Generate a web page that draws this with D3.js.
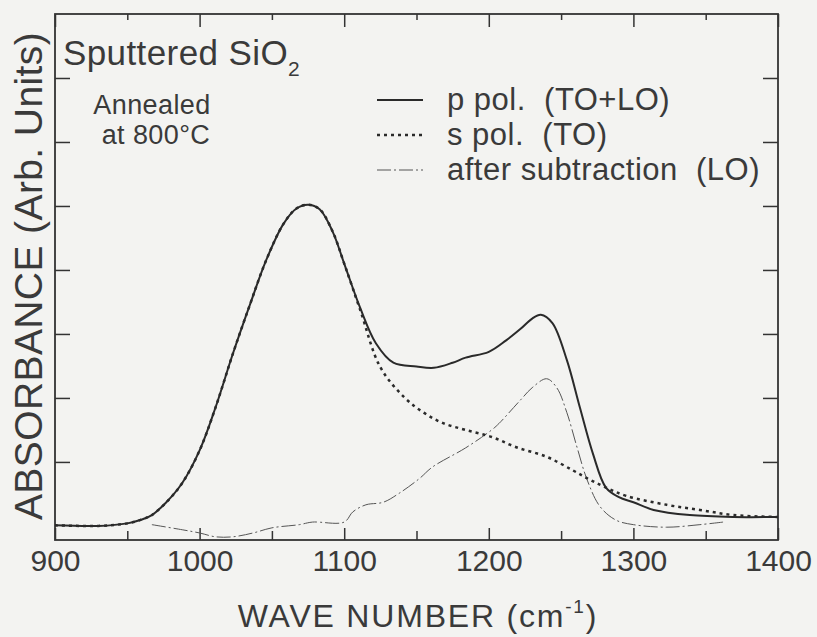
<!DOCTYPE html>
<html lang="en">
  <head>
    <meta charset="UTF-8" />
    <title>Sputtered SiO2 absorbance</title>
    <script src="https://d3js.org/d3.v7.min.js"></script>
    <style>
      body {
        margin: 0;
        padding: 0;
        background-color: #f3f3f1;
        font-family: "Liberation Sans", Arial, sans-serif;
      }
      .axis path {
        display: none;
      }
      .axis line {
        stroke: #333;
        stroke-width: 1.5px;
      }
      .axis text {
        font-family: "Liberation Sans", Arial, sans-serif;
        font-size: 30px;
        fill: #3a3a3a;
      }
    </style>
  </head>
  <body>
    <div id="chart"></div>
    <script>
      const width = 817;
      const height = 637;

      // p polarisation (TO+LO), solid
      const pPolWave = [900, 930, 950, 960, 967, 977, 988, 1000, 1011, 1023, 1035, 1046, 1058, 1067, 1075, 1083, 1092, 1100, 1111, 1122, 1134, 1150, 1162, 1175, 1184, 1200, 1212, 1222, 1230, 1236, 1244, 1254, 1263, 1272, 1281, 1290, 1300, 1314, 1339, 1369, 1400];
      const pPolAbs = [0.01, 0.0, 0.04, 0.1, 0.17, 0.37, 0.67, 1.18, 1.85, 2.69, 3.47, 4.15, 4.72, 4.96, 5.02, 4.95, 4.6, 4.1, 3.41, 2.85, 2.55, 2.49, 2.47, 2.55, 2.63, 2.72, 2.9, 3.08, 3.24, 3.3, 3.17, 2.59, 1.85, 1.13, 0.6, 0.45, 0.37, 0.25, 0.17, 0.14, 0.14];

      // s polarisation (TO), dotted
      const sPolWave = [900, 930, 950, 960, 967, 977, 988, 1000, 1011, 1023, 1035, 1046, 1058, 1067, 1075, 1083, 1092, 1100, 1111, 1125, 1142, 1155, 1168, 1184, 1202, 1219, 1240, 1258, 1270, 1281, 1295, 1323, 1346, 1369, 1400];
      const sPolAbs = [0.01, 0.0, 0.04, 0.1, 0.17, 0.37, 0.67, 1.18, 1.85, 2.69, 3.47, 4.15, 4.72, 4.96, 5.02, 4.95, 4.6, 4.1, 3.38, 2.48, 2.0, 1.77, 1.61, 1.5, 1.39, 1.23, 1.08, 0.87, 0.72, 0.6, 0.47, 0.33, 0.25, 0.17, 0.14];

      // after subtraction (LO), thin dash-dot
      const loWave = [967, 988, 1000, 1011, 1023, 1037, 1050, 1069, 1078, 1100, 1106, 1115, 1127, 1138, 1152, 1161, 1184, 1202, 1207, 1222, 1230, 1240, 1247, 1254, 1261, 1268, 1277, 1288, 1300, 1323, 1346, 1362];
      const loAbs = [0.02, -0.06, -0.11, -0.17, -0.17, -0.11, -0.03, 0.02, 0.06, 0.06, 0.22, 0.33, 0.37, 0.51, 0.74, 0.92, 1.22, 1.5, 1.6, 1.97, 2.16, 2.3, 2.16, 1.77, 1.23, 0.72, 0.3, 0.09, 0.02, -0.02, 0.02, 0.06];

      const xMajorTicks = [900, 1000, 1100, 1200, 1300, 1400];
      const xMinorTicks = [950, 1050, 1150, 1250, 1350];
      const yTicks = [1, 2, 3, 4, 5, 6, 7];

      const legendLabels = ["p pol.  (TO+LO)", "s pol.  (TO)", "after subtraction  (LO)"];
      const legendDash = [null, "3,4", "14,3,2,3"];
      const legendWidth = [2, 2.5, 1];

      const plotLeft = 55,
        plotRight = 778,
        plotTop = 14,
        plotBottom = 540;

      const textColor = "#3a3a3a";

      const x = d3.scaleLinear().domain([900, 1400]).range([plotLeft, plotRight]);
      const y = d3.scaleLinear().domain([-0.22, 8]).range([plotBottom, plotTop]);

      const svg = d3
        .select("#chart")
        .append("svg")
        .attr("width", width)
        .attr("height", height);

      // frame
      svg
        .append("rect")
        .attr("x", plotLeft)
        .attr("y", plotTop)
        .attr("width", plotRight - plotLeft)
        .attr("height", plotBottom - plotTop)
        .attr("fill", "none")
        .attr("stroke", "#333")
        .attr("stroke-width", 1.8);

      // axes, ticks pointing inward
      svg
        .append("g")
        .attr("class", "axis")
        .attr("transform", `translate(0,${plotBottom})`)
        .call(
          d3.axisBottom(x).tickValues(xMajorTicks).tickSizeInner(-12).tickSizeOuter(0).tickPadding(10).tickFormat(d3.format("d"))
        );
      svg
        .append("g")
        .attr("class", "axis")
        .attr("transform", `translate(0,${plotBottom})`)
        .call(d3.axisBottom(x).tickValues(xMinorTicks).tickSizeInner(-9).tickSizeOuter(0).tickFormat(""));
      svg
        .append("g")
        .attr("class", "axis")
        .attr("transform", `translate(0,${plotTop})`)
        .call(d3.axisTop(x).tickValues(xMajorTicks).tickSizeInner(-13).tickSizeOuter(0).tickFormat(""));
      svg
        .append("g")
        .attr("class", "axis")
        .attr("transform", `translate(0,${plotTop})`)
        .call(d3.axisTop(x).tickValues(xMinorTicks).tickSizeInner(-6).tickSizeOuter(0).tickFormat(""));
      svg
        .append("g")
        .attr("class", "axis")
        .attr("transform", `translate(${plotLeft},0)`)
        .call(d3.axisLeft(y).tickValues(yTicks).tickSizeInner(-15).tickSizeOuter(0).tickFormat(""));
      svg
        .append("g")
        .attr("class", "axis")
        .attr("transform", `translate(${plotRight},0)`)
        .call(d3.axisRight(y).tickValues(yTicks).tickSizeInner(-15).tickSizeOuter(0).tickFormat(""));

      const line = d3
        .line()
        .x((d) => x(d[0]))
        .y((d) => y(d[1]))
        .curve(d3.curveCatmullRom.alpha(0.5));

      const series = [
        d3.zip(pPolWave, pPolAbs),
        d3.zip(sPolWave, sPolAbs),
        d3.zip(loWave, loAbs),
      ];

      // draw LO first so the thick curves sit on top
      [2, 1, 0].forEach((i) => {
        svg
          .append("path")
          .datum(series[i])
          .attr("d", line)
          .attr("fill", "none")
          .attr("stroke", i === 2 ? "#555" : "#2a2a2a")
          .attr("stroke-width", legendWidth[i])
          .attr("stroke-dasharray", legendDash[i]);
      });

      // legend
      const legendY = [100, 135, 170];
      legendLabels.forEach((label, i) => {
        svg
          .append("line")
          .attr("x1", 377)
          .attr("x2", 423)
          .attr("y1", legendY[i])
          .attr("y2", legendY[i])
          .attr("stroke", i === 2 ? "#555" : "#2a2a2a")
          .attr("stroke-width", legendWidth[i])
          .attr("stroke-dasharray", legendDash[i]);
        svg
          .append("text")
          .attr("x", 447)
          .attr("y", legendY[i] + 10)
          .attr("font-size", 31)
          .attr("letter-spacing", 0.5)
          .attr("fill", textColor)
          .style("white-space", "pre")
          .text(label);
      });

      // title and annotation
      const title = svg
        .append("text")
        .attr("x", 63)
        .attr("y", 65)
        .attr("font-size", 35)
        .attr("letter-spacing", 0.4)
        .attr("fill", textColor);
      title.append("tspan").text("Sputtered SiO");
      title.append("tspan").attr("font-size", 21).attr("dy", 11).text("2");

      svg
        .append("text")
        .attr("x", 152)
        .attr("y", 114)
        .attr("text-anchor", "middle")
        .attr("font-size", 27)
        .attr("letter-spacing", 0.4)
        .attr("fill", textColor)
        .text("Annealed");
      svg
        .append("text")
        .attr("x", 156)
        .attr("y", 144)
        .attr("text-anchor", "middle")
        .attr("font-size", 27)
        .attr("letter-spacing", 0.4)
        .attr("fill", textColor)
        .text("at 800°C");

      // axis titles
      const xTitle = svg
        .append("text")
        .attr("x", 418)
        .attr("y", 627)
        .attr("text-anchor", "middle")
        .attr("font-size", 32)
        .attr("letter-spacing", 1.8)
        .attr("fill", textColor);
      xTitle.append("tspan").text("WAVE NUMBER (cm");
      xTitle.append("tspan").attr("font-size", 19).attr("dy", -14).text("-1");
      xTitle.append("tspan").attr("dy", 14).text(")");

      svg
        .append("text")
        .attr("transform", "translate(42,276) rotate(-90)")
        .attr("text-anchor", "middle")
        .attr("font-size", 39)
        .attr("letter-spacing", 0.4)
        .attr("fill", textColor)
        .text("ABSORBANCE (Arb. Units)");
    </script>
  </body>
</html>
